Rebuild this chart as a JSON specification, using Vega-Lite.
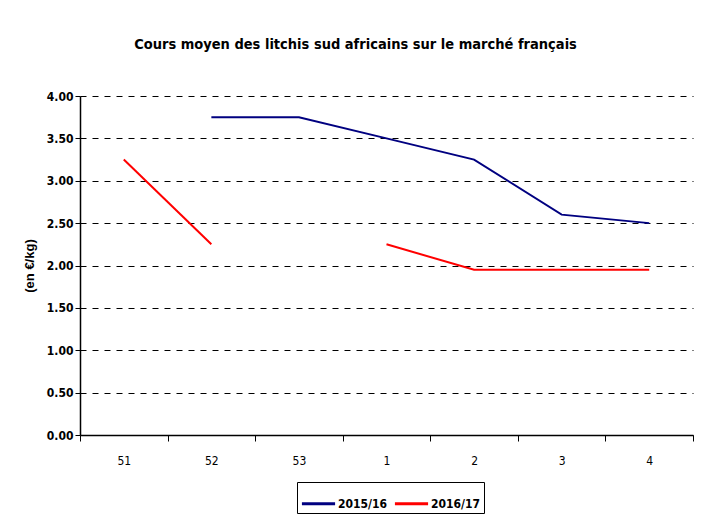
{
  "$schema": "https://vega.github.io/schema/vega-lite/v6.json",
  "width": 613,
  "height": 339,
  "autosize": "none",
  "padding": {"left": 80, "top": 96, "right": 14, "bottom": 80},
  "background": "white",
  "title": {
    "text": "Cours moyen des litchis sud africains sur le marché français",
    "font": "DejaVu Sans Condensed, Liberation Sans, sans-serif",
    "fontSize": 14.5,
    "fontWeight": "bold",
    "color": "black",
    "anchor": "middle",
    "dx": -31,
    "offset": 38
  },
  "data": {
    "values": [
      {"serie": "2015/16", "seg": "a", "semaine": "52", "prix": 3.75},
      {"serie": "2015/16", "seg": "a", "semaine": "53", "prix": 3.75},
      {"serie": "2015/16", "seg": "a", "semaine": "1", "prix": 3.5},
      {"serie": "2015/16", "seg": "a", "semaine": "2", "prix": 3.25},
      {"serie": "2015/16", "seg": "a", "semaine": "3", "prix": 2.6},
      {"serie": "2015/16", "seg": "a", "semaine": "4", "prix": 2.5},
      {"serie": "2016/17", "seg": "b", "semaine": "51", "prix": 3.25},
      {"serie": "2016/17", "seg": "b", "semaine": "52", "prix": 2.25},
      {"serie": "2016/17", "seg": "c", "semaine": "1", "prix": 2.25},
      {"serie": "2016/17", "seg": "c", "semaine": "2", "prix": 1.95},
      {"serie": "2016/17", "seg": "c", "semaine": "3", "prix": 1.95},
      {"serie": "2016/17", "seg": "c", "semaine": "4", "prix": 1.95}
    ]
  },
  "mark": {"type": "line", "strokeWidth": 2},
  "encoding": {
    "x": {
      "field": "semaine",
      "type": "ordinal",
      "sort": ["51", "52", "53", "1", "2", "3", "4"],
      "scale": {"type": "band", "domain": ["51", "52", "53", "1", "2", "3", "4"], "paddingInner": 0, "paddingOuter": 0},
      "axis": {
        "title": null,
        "labelAngle": 0,
        "tickBand": "extent",
        "tickSize": 6,
        "tickColor": "black",
        "domainColor": "black",
        "domainWidth": 1.5,
        "labelFont": "DejaVu Sans Condensed, Liberation Sans, sans-serif",
        "labelFontSize": 12,
        "labelColor": "black",
        "labelPadding": 14,
        "grid": false
      }
    },
    "y": {
      "field": "prix",
      "type": "quantitative",
      "scale": {"domain": [0, 4]},
      "axis": {
        "title": "(en  €/kg)",
        "titleFont": "Liberation Sans, sans-serif",
        "titleFontSize": 13,
        "titleFontWeight": "bold",
        "titleColor": "black",
        "titlePadding": 10,
        "values": [0, 0.5, 1, 1.5, 2, 2.5, 3, 3.5, 4],
        "format": ".2f",
        "labelFont": "DejaVu Sans Condensed, Liberation Sans, sans-serif",
        "labelFontSize": 12,
        "labelFontWeight": "bold",
        "labelColor": "black",
        "tickColor": "black",
        "tickSize": 5,
        "domainColor": "black",
        "domainWidth": 1.5,
        "grid": true,
        "gridColor": "black",
        "gridDash": [6, 6],
        "gridWidth": 1
      }
    },
    "color": {
      "field": "serie",
      "type": "nominal",
      "scale": {"domain": ["2015/16", "2016/17"], "range": ["#000080", "#ff0000"]},
      "legend": {
        "title": null,
        "orient": "none",
        "direction": "horizontal",
        "legendX": 217,
        "legendY": 386,
        "symbolType": "stroke",
        "symbolSize": 1100,
        "symbolStrokeWidth": 3,
        "labelFont": "DejaVu Sans Condensed, Liberation Sans, sans-serif",
        "labelFontSize": 12,
        "labelFontWeight": "bold",
        "labelColor": "black",
        "strokeColor": "black",
        "padding": 3,
        "columnPadding": 0,
        "labelOffset": 1
      }
    },
    "detail": {"field": "seg"}
  },
  "config": {
    "view": {"stroke": null},
    "axis": {"gridDash": [6, 6]}
  }
}
